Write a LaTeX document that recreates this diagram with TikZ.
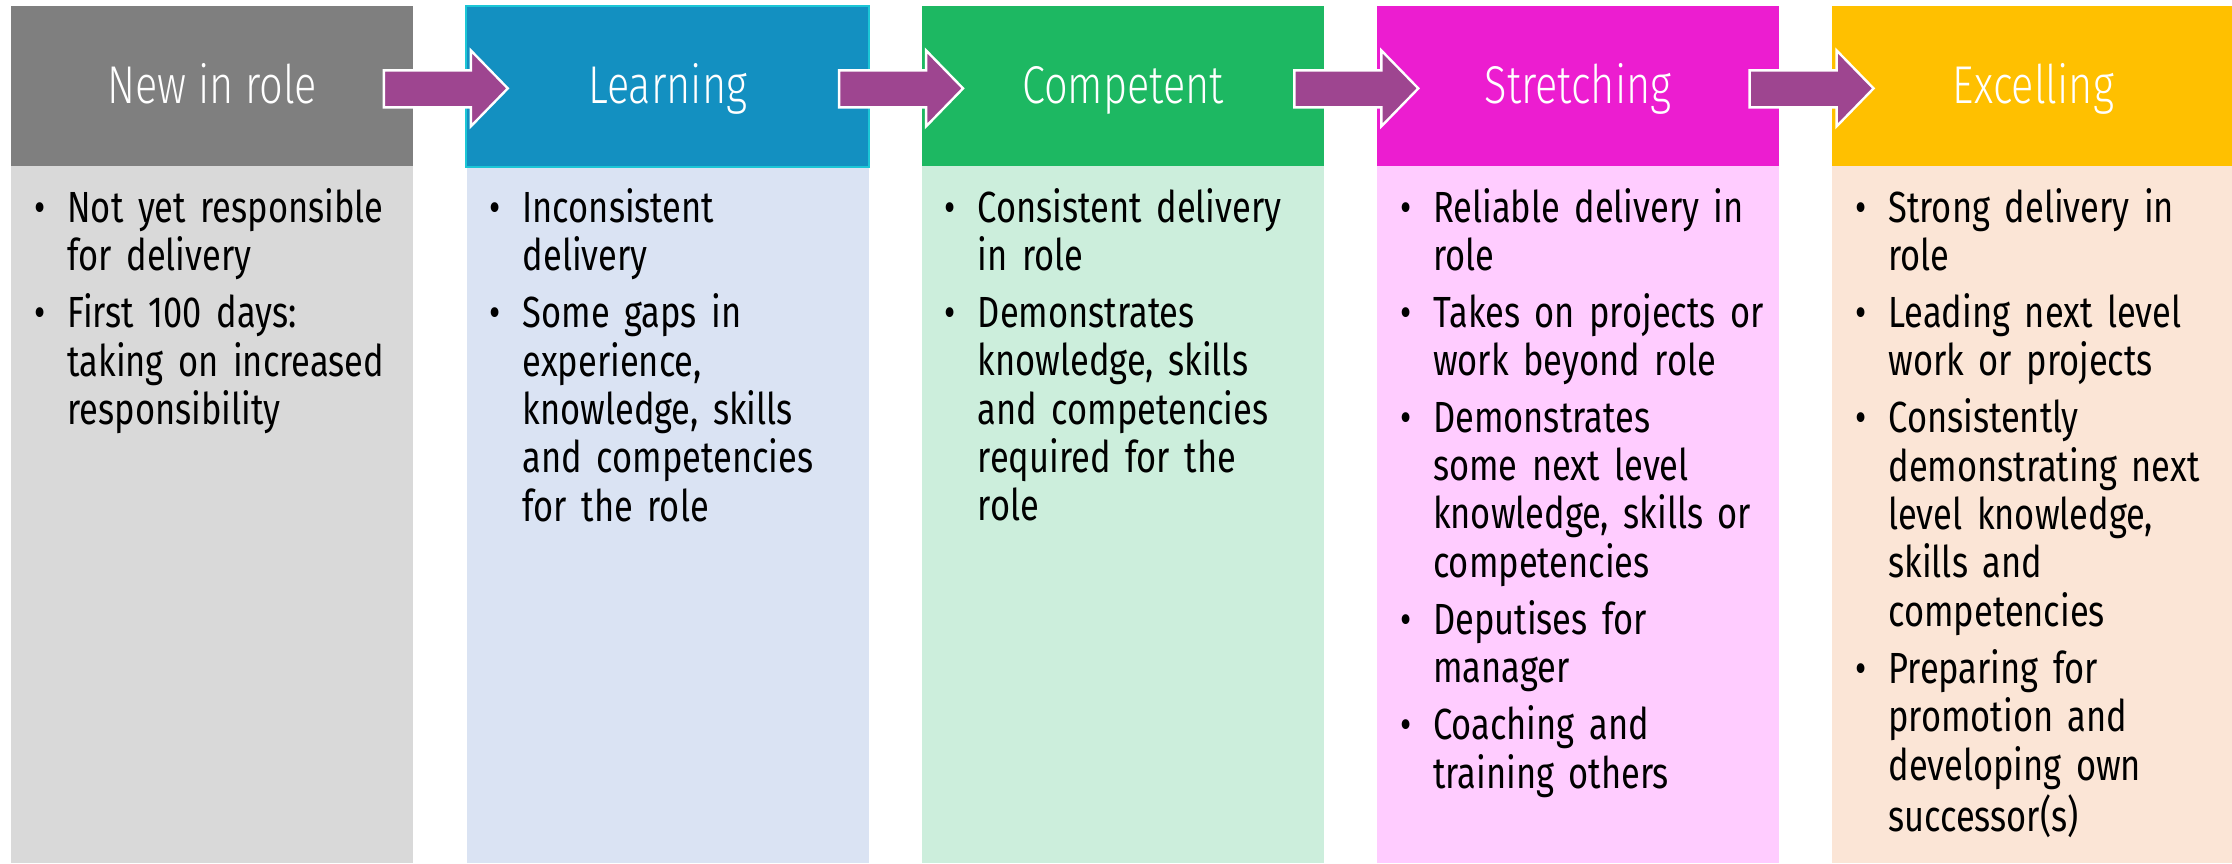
\documentclass[tikz,border=0pt]{standalone}
\usepackage{fontspec}
\setmainfont{Fira Sans}[FakeStretch=0.79]
\newfontfamily\titlefont{Fira Sans Light}[FakeStretch=0.78]
\usetikzlibrary{calc}
\definecolor{hdrA}{HTML}{7F7F7F}\definecolor{bodyA}{HTML}{D9D9D9}
\definecolor{hdrB}{HTML}{1390C1}\definecolor{bodyB}{HTML}{DAE3F3}\definecolor{edgeB}{HTML}{1CC6D6}
\definecolor{hdrC}{HTML}{1DB862}\definecolor{bodyC}{HTML}{CCEEDC}
\definecolor{hdrD}{HTML}{EC1DD0}\definecolor{bodyD}{HTML}{FFCCFF}
\definecolor{hdrE}{HTML}{FFC000}\definecolor{bodyE}{HTML}{FBE5D6}
\definecolor{arrowfill}{HTML}{9E4590}
\newcommand\bitem[1]{\noindent\makebox[16.5pt][l]{\textbullet}\begin{tabular}[t]{@{}l@{}}#1\end{tabular}\par}
\newcommand\bodysetup{\fontsize{21.8pt}{24.1pt}\selectfont\setlength{\parskip}{3.3pt}\setlength{\lineskiplimit}{-1pt}}
\tikzset{
  x=0.5pt, y=-0.5pt,
  hdrbox/.style={fill=#1, draw=none, anchor=north west, minimum width=201pt, minimum height=80pt, inner sep=0},
  bodybox/.style={fill=#1, draw=none, anchor=north west, minimum width=201pt, minimum height=348.5pt, inner sep=0},
  titletext/.style={anchor=base, inner sep=0, text=white, font=\titlefont\fontsize{26.6pt}{30pt}\selectfont},
  bodytext/.style={anchor=base west, inner sep=0, text width=190pt, text=black, font=\bodysetup},
  blockarrow/.style={fill=arrowfill, draw=white, line width=1.2pt, line join=miter},
}
\begin{document}
\begin{tikzpicture}
\useasboundingbox (0,0) rectangle (2232,863);
% columns
\foreach \i/\hc/\bc in {0/hdrA/bodyA,1/hdrB/bodyB,2/hdrC/bodyC,3/hdrD/bodyD,4/hdrE/bodyE}{
  \pgfmathsetmacro{\lx}{11+455.25*\i}
  \node[hdrbox=\hc] (h\i) at (\lx,6) {};
  \node[bodybox=\bc] (b\i) at (\lx,166) {};
}
\draw[edgeB, line width=0.8pt] (h1.south west) -- (h1.north west) -- (h1.north east) -- (h1.south east) -- cycle;
% titles
\node[titletext] (t0) at ($(h0.north)+(0,97)$) {New in role};
\node[titletext] (t1) at ($(h1.north)+(0,97)$) {Learning};
\node[titletext] (t2) at ($(h2.north)+(0,97)$) {Competent};
\node[titletext] (t3) at ($(h3.north)+(0,97)$) {Stretching};
\node[titletext] (t4) at ($(h4.north)+(0,97)$) {Excelling};
% arrows
\foreach \i in {0,1,2,3}{
  \draw[blockarrow] ($(h\i.east)+(-30,-16)$) -- ($(h\i.east)+(57,-16)$) -- ($(h\i.east)+(57,-36)$)
     -- ($(h\i.east)+(94,2)$) -- ($(h\i.east)+(57,40)$) -- ($(h\i.east)+(57,21)$) -- ($(h\i.east)+(-30,21)$) -- cycle;
}
% body texts
\node[bodytext] (x0) at ($(b0.north west)+(23,56)$) {%
\bitem{Not yet responsible\\for delivery}
\bitem{First 100 days:\\taking on increased\\responsibility}};
\node[bodytext] (x1) at ($(b1.north west)+(23,56)$) {%
\bitem{Inconsistent\\delivery}
\bitem{Some gaps in\\experience,\\knowledge, skills\\and competencies\\for the role}};
\node[bodytext] (x2) at ($(b2.north west)+(23,56)$) {%
\bitem{Consistent delivery\\in role}
\bitem{Demonstrates\\knowledge, skills\\and competencies\\required for the\\role}};
\node[bodytext] (x3) at ($(b3.north west)+(23,56)$) {%
\bitem{Reliable delivery in\\role}
\bitem{Takes on projects or\\work beyond role}
\bitem{Demonstrates\\some next level\\knowledge, skills or\\competencies}
\bitem{Deputises for\\manager}
\bitem{Coaching and\\training others}};
\node[bodytext] (x4) at ($(b4.north west)+(23,56)$) {%
\bitem{Strong delivery in\\role}
\bitem{Leading next level\\work or projects}
\bitem{Consistently\\demonstrating next\\level knowledge,\\skills and\\competencies}
\bitem{Preparing for\\promotion and\\developing own\\successor(s)}};
\end{tikzpicture}
\end{document}
